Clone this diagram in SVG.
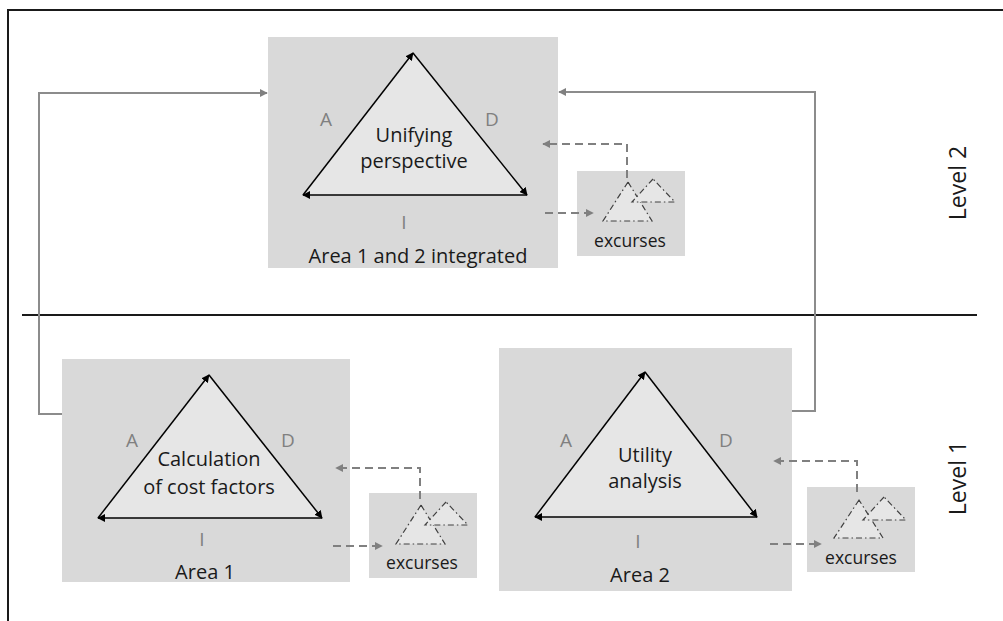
<svg xmlns="http://www.w3.org/2000/svg" width="1003" height="621" viewBox="0 0 1003 621">
<defs>
<marker id="ah" viewBox="0 0 10 10" refX="9" refY="5" markerWidth="8" markerHeight="8" markerUnits="userSpaceOnUse" orient="auto"><path d="M0,0 L10,5 L0,10 z" fill="#000"/></marker>
<marker id="ag" viewBox="0 0 10 10" refX="9" refY="5" markerWidth="8" markerHeight="8" markerUnits="userSpaceOnUse" orient="auto"><path d="M0,0 L10,5 L0,10 z" fill="#808080"/></marker>
<style>
.box{fill:#d9d9d9}
.tri{fill:#e6e6e6;stroke:none}
.edge{stroke:#000;stroke-width:1.5;fill:none;marker-end:url(#ah)}
.ex{fill:#e6e6e6;stroke:#404040;stroke-width:1.2;stroke-dasharray:6,3,1.5,3}
.t{font-family:"Open Sans","Liberation Sans",sans-serif;font-size:20px;fill:#1a1a1a;text-anchor:middle}
.x{font-family:"Open Sans","Liberation Sans",sans-serif;font-size:17.5px;fill:#1a1a1a;text-anchor:middle}
.v{font-family:"Open Sans","Liberation Sans",sans-serif;font-size:23px;fill:#1a1a1a;text-anchor:middle}
.l{font-family:"Open Sans","Liberation Sans",sans-serif;font-size:19px;fill:#808080;text-anchor:middle}
.conn{stroke:#8c8c8c;stroke-width:2;fill:none;marker-end:url(#ag)}
.dash{stroke:#808080;stroke-width:2;fill:none;stroke-dasharray:8,5;marker-end:url(#ag)}
</style>
</defs>
<g id="frame" fill="none" stroke="#1a1a1a" stroke-width="2">
<path d="M8,621 V10 H1003"/>
<line x1="22" y1="315" x2="977" y2="315"/>
</g>
<text x="966" y="183" class="v" transform="rotate(-90 966 183)">Level 2</text>
<text x="966" y="478" class="v" transform="rotate(-90 966 478)">Level 1</text>

<g id="level2">
<rect class="box" x="268" y="37" width="290" height="231"/>
<polygon class="tri" points="413,53 303,195 527,195"/>
<line class="edge" x1="303" y1="195" x2="413" y2="53"/>
<line class="edge" x1="413" y1="53" x2="527" y2="195"/>
<line class="edge" x1="527" y1="195" x2="303" y2="195"/>
<text class="l" x="326" y="126">A</text>
<text class="l" x="492" y="126">D</text>
<text class="l" x="404" y="229">I</text>
<text class="t" x="414" y="142">Unifying</text>
<text class="t" x="414" y="168">perspective</text>
<text class="t" x="418" y="263">Area 1 and 2 integrated</text>
</g>
<g id="excurses2">
<rect class="box" x="577" y="171" width="108" height="85"/>
<polygon class="ex" points="628,182 603,221 652,221"/>
<polygon class="ex" points="653,179 632,202 675,202"/>
<text class="x" x="630" y="247">excurses</text>
</g>

<g id="area1">
<rect class="box" x="62" y="359" width="288" height="223"/>
<polygon class="tri" points="209,375 98,518 322,518"/>
<line class="edge" x1="98" y1="518" x2="209" y2="375"/>
<line class="edge" x1="209" y1="375" x2="322" y2="518"/>
<line class="edge" x1="322" y1="518" x2="98" y2="518"/>
<text class="l" x="132" y="447">A</text>
<text class="l" x="288" y="447">D</text>
<text class="l" x="202" y="546">I</text>
<text class="t" x="209" y="466">Calculation</text>
<text class="t" x="209" y="494">of cost factors</text>
<text class="t" x="205" y="579">Area 1</text>
</g>
<g id="excurses1">
<rect class="box" x="369" y="493" width="108" height="85"/>
<polygon class="ex" points="421,505 396,544 445,544"/>
<polygon class="ex" points="446,502 425,525 468,525"/>
<text class="x" x="422" y="569">excurses</text>
</g>

<g id="area2">
<rect class="box" x="499" y="348" width="293" height="243"/>
<polygon class="tri" points="645,372 535,517 757,517"/>
<line class="edge" x1="535" y1="517" x2="645" y2="372"/>
<line class="edge" x1="645" y1="372" x2="757" y2="517"/>
<line class="edge" x1="757" y1="517" x2="535" y2="517"/>
<text class="l" x="566" y="447">A</text>
<text class="l" x="726" y="447">D</text>
<text class="l" x="638" y="548">I</text>
<text class="t" x="645" y="462">Utility</text>
<text class="t" x="645" y="488">analysis</text>
<text class="t" x="640" y="582">Area 2</text>
</g>
<g id="excurses3">
<rect class="box" x="807" y="487" width="108" height="85"/>
<polygon class="ex" points="859,500 834,538 883,538"/>
<polygon class="ex" points="884,497 863,520 906,520"/>
<text class="x" x="861" y="564">excurses</text>
</g>

<g id="connectors">
<path class="conn" d="M62,414 H39 V93 H267"/>
<path class="conn" d="M792,411 H815 V92 H559"/>
<path class="dash" d="M627,178 V144 H543"/>
<path class="dash" d="M545,213 H593"/>
<path class="dash" d="M420,499 V468 H336"/>
<path class="dash" d="M333,546 H382"/>
<path class="dash" d="M857,492 V461 H774"/>
<path class="dash" d="M770,544 H821"/>
</g>
</svg>
